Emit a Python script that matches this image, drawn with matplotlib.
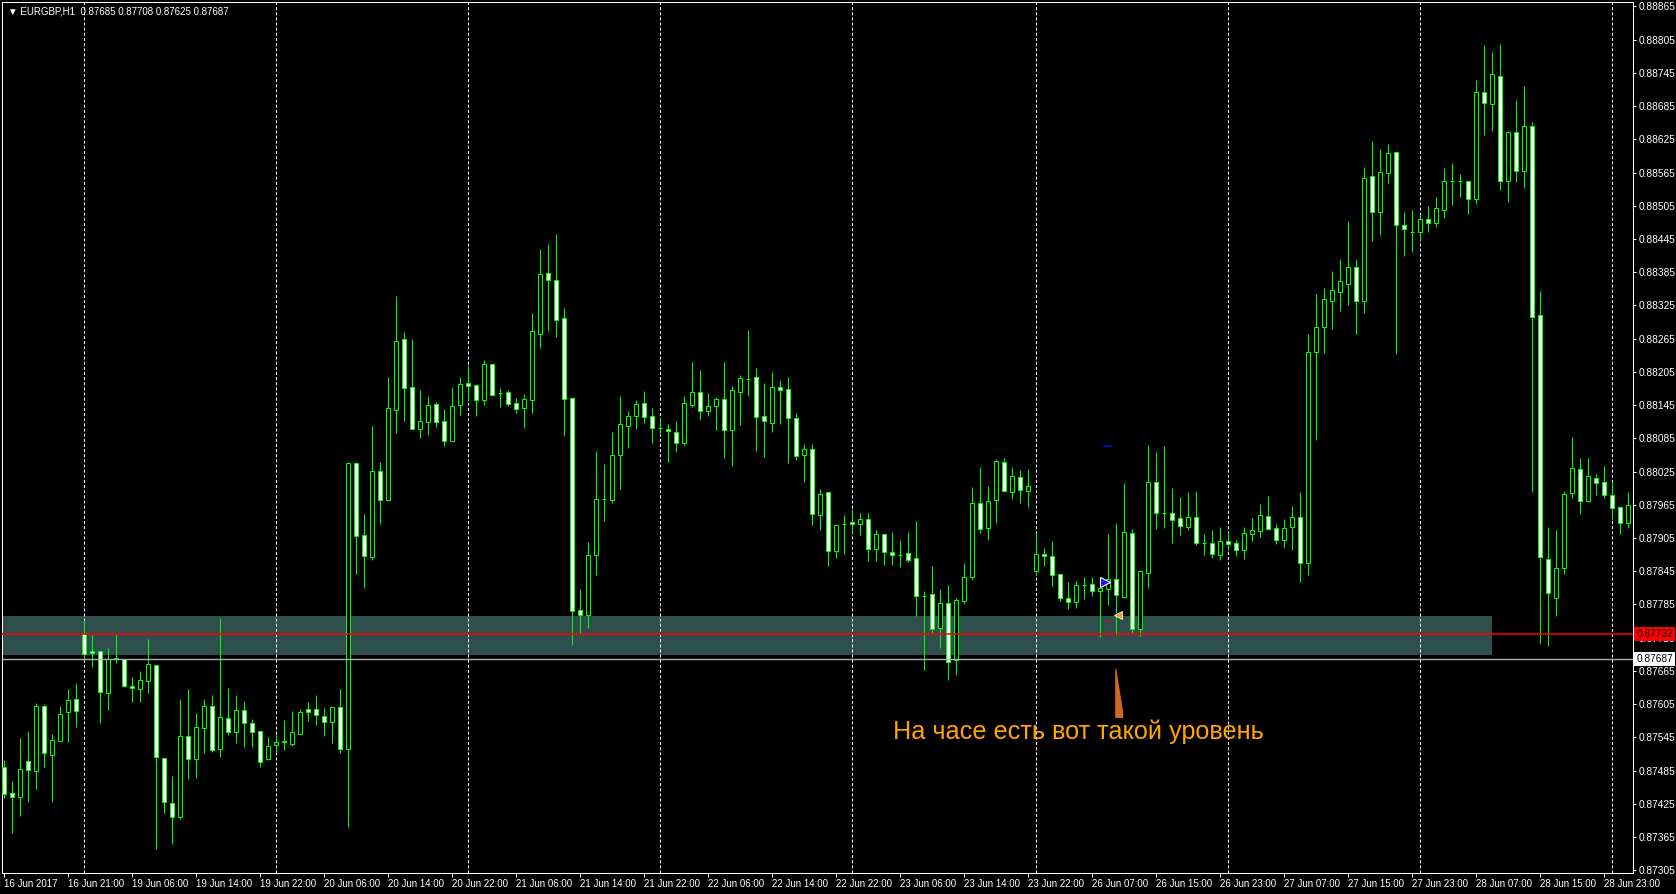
#%%  Librerías
import numpy as np
import pandas as pd
import matplotlib
matplotlib.use('Agg')
from matplotlib import pyplot as plt
from matplotlib.patches import Rectangle, Polygon

plt.rcParams['font.family'] = ['Liberation Sans', 'DejaVu Sans']
plt.rcParams['lines.scale_dashes'] = False

#%%  Datos (EURGBP H1, precios en 1e-5)
simbolo = 'EURGBP,H1'
cabecera_ohlc = '0.87685 0.87708 0.87625 0.87687'

abre = [87492, 87445, 87438, 87503, 87485, 87602, 87513, 87539, 87591, 87615,
        87732, 87701, 87701, 87625, 87687, 87687, 87638, 87633, 87647, 87676,
        87508, 87427, 87401, 87548, 87506, 87562, 87602, 87524, 87580, 87555,
        87595, 87571, 87557, 87506, 87531, 87537, 87533, 87551, 87596, 87596,
        87584, 87573, 87600, 87524, 88041, 87911, 87871, 88026, 87974, 88137,
        88265, 88178, 88102, 88115, 88147, 88117, 88081, 88146, 88185, 88182,
        88155, 88220, 88167, 88169, 88149, 88140, 88155, 88274, 88384, 88371,
        88303, 88158, 87775, 87766, 87875, 87976, 87974, 88055, 88108, 88126,
        88149, 88126, 88104, 88102, 88097, 88077, 88146, 88169, 88135, 88144,
        88156, 88100, 88169, 88192, 88196, 88126, 88113, 88178, 88174, 88122,
        88055, 88066, 87947, 87988, 87882, 87931, 87934, 87931, 87940, 87885,
        87913, 87880, 87875, 87878, 87869, 87801, 87804, 87743, 87788, 87685,
        87791, 87835, 87969, 87923, 87974, 88043, 87988, 88015, 87990, 87846,
        87876, 87873, 87840, 87797, 87790, 87820, 87822, 87810, 87813, 87831,
        87799, 87914, 87741, 87842, 88006, 87950, 87950, 87941, 87925, 87943,
        87896, 87896, 87875, 87900, 87896, 87884, 87913, 87918, 87945, 87923,
        87902, 87925, 87943, 87860, 88241, 88286, 88333, 88350, 88364, 88395,
        88333, 88559, 88494, 88565, 88602, 88471, 88458, 88458, 88482, 88474,
        88498, 88550, 88550, 88550, 88518, 88711, 88689, 88740, 88550, 88639,
        88568, 88649, 88308, 87867, 87797, 87851, 87987, 88030, 87972, 88014,
        88006, 87983, 87961, 87932]

maximo = [87504, 87466, 87544, 87557, 87607, 87606, 87551, 87602, 87633, 87643,
          87757, 87730, 87701, 87707, 87732, 87687, 87654, 87665, 87723, 87676,
          87508, 87475, 87615, 87633, 87589, 87615, 87622, 87761, 87635, 87622,
          87611, 87578, 87557, 87546, 87551, 87577, 87593, 87596, 87609, 87622,
          87598, 87600, 87633, 88043, 88043, 87949, 88108, 88043, 88196, 88342,
          88277, 88265, 88173, 88162, 88151, 88138, 88178, 88196, 88218, 88184,
          88227, 88220, 88176, 88173, 88158, 88165, 88312, 88427, 88436, 88454,
          88321, 88160, 87813, 87898, 88062, 88039, 88097, 88162, 88135, 88155,
          88171, 88140, 88122, 88111, 88117, 88162, 88223, 88209, 88167, 88160,
          88223, 88180, 88200, 88281, 88212, 88185, 88205, 88191, 88196, 88131,
          88075, 88075, 87994, 87988, 87931, 87947, 87958, 87950, 87950, 87920,
          87913, 87916, 87902, 87916, 87936, 87810, 87855, 87813, 87820, 87797,
          87860, 87998, 88034, 87999, 88048, 88050, 88034, 88028, 88030, 87914,
          87887, 87900, 87840, 87826, 87828, 87835, 87835, 87829, 87913, 87932,
          88005, 87922, 87848, 88073, 88061, 88071, 87996, 87979, 87988, 87990,
          87913, 87920, 87925, 87918, 87902, 87925, 87941, 87967, 87981, 87931,
          87940, 87963, 87988, 88274, 88346, 88357, 88388, 88409, 88478, 88409,
          88575, 88622, 88608, 88617, 88604, 88494, 88498, 88491, 88505, 88521,
          88574, 88583, 88563, 88550, 88732, 88796, 88783, 88797, 88640, 88696,
          88722, 88657, 88351, 87925, 87920, 87990, 88088, 88050, 88050, 88021,
          88035, 88008, 87961, 87988]

minimo = [87436, 87373, 87403, 87429, 87452, 87492, 87429, 87539, 87537, 87564,
          87685, 87672, 87570, 87595, 87680, 87636, 87609, 87609, 87625, 87344,
          87409, 87353, 87398, 87470, 87472, 87517, 87519, 87510, 87550, 87535,
          87528, 87528, 87492, 87504, 87517, 87522, 87530, 87551, 87575, 87568,
          87548, 87535, 87517, 87383, 87840, 87815, 87866, 87931, 87974, 88095,
          88117, 88102, 88086, 88091, 88106, 88072, 88081, 88128, 88153, 88126,
          88146, 88162, 88142, 88144, 88131, 88104, 88131, 88248, 88279, 88268,
          88090, 87712, 87732, 87743, 87838, 87936, 87969, 87994, 88068, 88102,
          88113, 88077, 88091, 88043, 88061, 88073, 88142, 88118, 88126, 88100,
          88050, 88035, 88109, 88162, 88062, 88052, 88097, 88111, 88041, 88046,
          88006, 87929, 87920, 87855, 87869, 87877, 87914, 87911, 87864, 87864,
          87857, 87857, 87853, 87862, 87764, 87667, 87734, 87707, 87649, 87658,
          87786, 87830, 87914, 87902, 87932, 87988, 87976, 87969, 87961, 87838,
          87855, 87819, 87792, 87777, 87779, 87795, 87801, 87727, 87784, 87730,
          87797, 87734, 87728, 87815, 87922, 87923, 87896, 87911, 87920, 87893,
          87875, 87869, 87866, 87884, 87873, 87867, 87900, 87907, 87920, 87894,
          87887, 87884, 87826, 87838, 88082, 88240, 88283, 88315, 88326, 88274,
          88312, 88442, 88453, 88547, 88238, 88415, 88422, 88444, 88458, 88467,
          88483, 88507, 88521, 88491, 88509, 88633, 88640, 88534, 88512, 88548,
          88537, 87988, 87714, 87710, 87764, 87840, 87978, 87949, 87970, 87983,
          87978, 87938, 87913, 87923]

cierre = [87443, 87438, 87488, 87486, 87602, 87517, 87541, 87588, 87613, 87593,
          87696, 87698, 87627, 87687, 87688, 87638, 87635, 87649, 87678, 87510,
          87429, 87401, 87548, 87506, 87564, 87602, 87522, 87582, 87555, 87595,
          87570, 87555, 87501, 87530, 87537, 87539, 87555, 87591, 87591, 87586,
          87573, 87600, 87524, 88041, 87909, 87873, 88026, 87974, 88140, 88261,
          88176, 88102, 88117, 88146, 88115, 88081, 88144, 88184, 88180, 88155,
          88220, 88164, 88167, 88147, 88138, 88156, 88279, 88382, 88371, 88299,
          88156, 87774, 87766, 87875, 87976, 87976, 88055, 88111, 88126, 88147,
          88124, 88104, 88104, 88099, 88077, 88149, 88169, 88135, 88144, 88156,
          88100, 88173, 88194, 88192, 88124, 88117, 88178, 88173, 88122, 88053,
          88066, 87949, 87985, 87882, 87929, 87931, 87931, 87940, 87885, 87913,
          87880, 87875, 87875, 87866, 87801, 87801, 87741, 87788, 87681, 87793,
          87835, 87969, 87922, 87972, 88044, 87990, 88017, 87992, 87999, 87876,
          87873, 87838, 87797, 87790, 87820, 87820, 87810, 87815, 87831, 87802,
          87916, 87741, 87846, 88006, 87950, 87950, 87938, 87927, 87943, 87896,
          87896, 87876, 87900, 87894, 87884, 87914, 87920, 87947, 87922, 87902,
          87923, 87943, 87860, 88241, 88286, 88337, 88352, 88370, 88395, 88333,
          88556, 88494, 88566, 88601, 88471, 88463, 88458, 88482, 88474, 88501,
          88550, 88550, 88550, 88518, 88711, 88691, 88743, 88550, 88639, 88568,
          88649, 88304, 87871, 87806, 87851, 87985, 88032, 87972, 88017, 88005,
          87983, 87960, 87932, 87965]

# Objetos dibujados en el gráfico
nivel_rojo = 0.87732
linea_bid = 0.87687
zona_sup = 0.87765
zona_inf = 0.87694
zona_fin = '2017-06-28 09:00'
precios_eje = np.round(np.arange(0.87305, 0.88866, 0.0006), 5)
nota = 'На часе есть вот такой уровень'

#%%  Tiempos (H1, sin fin de semana)
t = pd.date_range('2017-06-16 13:00', '2017-06-29 02:00', freq='h')
t = t[(t.dayofweek < 5) & ~((t.dayofweek == 4) & (t.hour == 23))]
n = len(t)
x = np.arange(n)

o = np.array(abre) / 1e5
h = np.array(maximo) / 1e5
l = np.array(minimo) / 1e5
c = np.array(cierre) / 1e5
sube = c >= o

#%%  Figura
W, H = 1676, 894
fig = plt.figure(figsize=(W / 100, H / 100), dpi=100, facecolor='black')
ax = fig.add_axes([2 / W, 21 / H, 1631 / W, 871 / H], facecolor='black')
ax.set_xlim(-0.1875, 203.6875)
ax.set_ylim(0.87300, 0.88873)

verde = '#00ff00'
px = 0.72

# rectángulo de zona
i_fin = t.get_loc(pd.Timestamp(zona_fin))
ax.add_patch(Rectangle((-2, zona_inf), i_fin + 2, zona_sup - zona_inf,
                       facecolor='#2f4f4f', edgecolor='none', zorder=1))

# grilla vertical en el inicio de cada día
dias = x[t.hour == 0]
for d in dias:
    ax.axvline(d, color='white', lw=px, ls=(0, (2.2, 1.5)), zorder=2)

# velas
ax.vlines(x, l, h, color=verde, lw=px, zorder=3)
ax.bar(x, np.abs(c - o), bottom=np.minimum(o, c), width=0.5,
       color=np.where(sube, 'black', 'white'), edgecolor=verde,
       linewidth=px, zorder=4)

# líneas horizontales
ax.axhline(nivel_rojo, color='#ff0000', lw=1.1, zorder=5)
ax.axhline(linea_bid, color='#a8b0b8', lw=1.0, zorder=5)

# marcas de operación
ax.plot([137.7, 139.2], [0.87826, 0.87766], color='#0000ff', lw=px, ls=(0, (1.5, 2.5)), zorder=6)
ax.plot(137.7, 0.87826, marker='>', ms=7, color='#1010ff', mec='white', mew=0.8, zorder=7)
ax.plot(139.3, 0.87766, marker='<', ms=6, color='#e0a020', mec='white', mew=0.6, zorder=7)
ax.plot([137.7, 138.3], [0.87755, 0.87755], color='red', lw=px, zorder=6)
ax.plot([137.6, 138.4], [0.88072, 0.88072], color='#0000ff', lw=1.2, zorder=6)

# flecha y texto
ax.add_patch(Polygon([(138.96, 0.87669), (139.09, 0.87669), (139.96, 0.87591),
                      (139.96, 0.87580), (138.96, 0.87580)],
                     closed=True, facecolor='#d2691e', edgecolor='none', zorder=6))
ax.text(111.2, 0.87542, nota, color='#ffa500', fontsize=18.2,
        ha='left', va='baseline', zorder=7)

#%%  Ejes
for s in ax.spines.values():
    s.set_color('white')
    s.set_linewidth(px)

ax.yaxis.tick_right()
ax.set_yticks(precios_eje)
ax.set_yticklabels([f'{p:.5f}' for p in precios_eje])
ax.tick_params(axis='y', colors='white', labelsize=7.3, length=2.5, width=px, pad=1.5)

xt = x[::8]
etiquetas = [t[0].strftime('%d %b %Y')] + [t[i].strftime('%d %b %H:%M') for i in xt[1:]]
ax.set_xticks(xt)
ax.set_xticklabels(etiquetas, ha='left')
ax.tick_params(axis='x', colors='white', labelsize=7, length=3, width=px, pad=1.5)

# etiquetas de precio sobre el eje
ax.text(1.002, nivel_rojo, f'{nivel_rojo:.5f}', transform=ax.get_yaxis_transform(),
        ha='left', va='center', color='black', fontsize=7.3, clip_on=False, zorder=10,
        bbox=dict(facecolor='red', edgecolor='none', pad=1.3))
ax.text(1.002, linea_bid, f'{linea_bid:.5f}', transform=ax.get_yaxis_transform(),
        ha='left', va='center', color='black', fontsize=7.3, clip_on=False, zorder=10,
        bbox=dict(facecolor='white', edgecolor='none', pad=1.3))

fig.text(8 / W, 1 - 11 / H, '▼ ' + simbolo + '  ' + cabecera_ohlc,
         color='white', fontsize=7, va='center', ha='left')

fig.savefig('out.png', dpi=100, facecolor='black')
